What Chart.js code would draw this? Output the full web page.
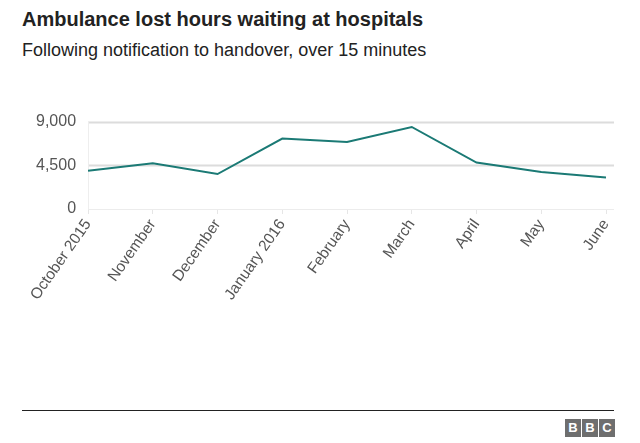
<!DOCTYPE html>
<html>
<head>
<meta charset="utf-8">
<script src="https://cdn.jsdelivr.net/npm/chart.js@4"></script>
<style>
  body { margin: 0; background: #fff; font-family: "Liberation Sans", Arial, sans-serif; }
  #wrap { position: relative; width: 640px; height: 443px; }
  .title { position: absolute; left: 22px; top: 8px; font-size: 20px; font-weight: bold; color: #222; }
  .sub { position: absolute; left: 22px; top: 40px; font-size: 18px; color: #222; }
  #box { position: absolute; left: 0; top: 100px; width: 640px; height: 212px; }
  .rule { position: absolute; left: 22px; top: 410px; width: 592px; height: 1px; background: #222; }
  .bbc { position: absolute; left: 565px; top: 418px; }
  .bbc span { display: inline-block; width: 16px; height: 18px; margin-right: 1px; background: #6e6e6e; color: #fff; font-size: 13px; font-weight: bold; text-align: center; line-height: 18px; }
</style>
</head>
<body>
<div id="wrap">
  <div class="title">Ambulance lost hours waiting at hospitals</div>
  <div class="sub">Following notification to handover, over 15 minutes</div>
  <div id="box"><canvas id="lostHours"></canvas></div>
  <div class="rule"></div>
  <div class="bbc"><span>B</span><span>B</span><span>C</span></div>
</div>
<script>
const months = ["October 2015", "November", "December", "January 2016", "February", "March", "April", "May", "June"];
const lostHours = [3950, 4700, 3600, 7250, 6900, 8450, 4780, 3800, 3250];
const yTicks = [0, 4500, 9000];

// grid lines that run a little past the last point, like the original
const gridPlugin = {
  id: "gridPlugin",
  beforeDatasetsDraw(chart) {
    const ctx = chart.ctx;
    const y = chart.scales.y;
    const area = chart.chartArea;
    ctx.save();
    yTicks.forEach((t) => {
      const py = Math.round(y.getPixelForValue(t)) + 0.5;
      ctx.strokeStyle = t === 0 ? "#ececec" : "#dcdcdc";
      ctx.lineWidth = t === 0 ? 1 : 2;
      ctx.beginPath();
      ctx.moveTo(area.left, py);
      ctx.lineTo(area.right + 8, py);
      ctx.stroke();
    });
    // faint left edge
    ctx.strokeStyle = "#eeeeee";
    ctx.lineWidth = 1;
    ctx.beginPath();
    ctx.moveTo(area.left + 0.5, area.top);
    ctx.lineTo(area.left + 0.5, area.bottom);
    ctx.stroke();
    ctx.restore();
  },
};

new Chart(document.getElementById("lostHours").getContext("2d"), {
  type: "line",
  data: {
    labels: months,
    datasets: [
      {
        data: lostHours,
        borderColor: "#1b7a75",
        borderWidth: 2,
        pointRadius: 0,
        tension: 0,
        fill: false,
      },
    ],
  },
  options: {
    responsive: true,
    maintainAspectRatio: false,
    animation: false,
    layout: { padding: { left: 24, right: 34, top: 13, bottom: 0 } },
    plugins: { legend: { display: false }, tooltip: { enabled: false } },
    scales: {
      x: {
        border: { display: false },
        grid: { drawOnChartArea: false, drawTicks: true, tickLength: 5, color: "#e6e6e6" },
        afterFit(scale) {
          scale.paddingLeft = 0;
          scale.paddingRight = 0;
          scale.height = 103;
        },
        ticks: {
          color: "#555",
          font: { family: "Liberation Sans", size: 15.5 },
          maxRotation: 55,
          minRotation: 55,
          padding: 2,
          autoSkip: false,
        },
      },
      y: {
        min: 0,
        max: 9000,
        afterBuildTicks(axis) {
          axis.ticks = yTicks.map((v) => ({ value: v }));
        },
        border: { display: false },
        grid: { display: false, drawTicks: false, tickLength: 0 },
        ticks: {
          color: "#555",
          font: { family: "Liberation Sans", size: 16 },
          padding: 12,
          callback: (v) => v.toLocaleString("en-US"),
        },
      },
    },
  },
  plugins: [gridPlugin],
});
</script>
</body>
</html>
